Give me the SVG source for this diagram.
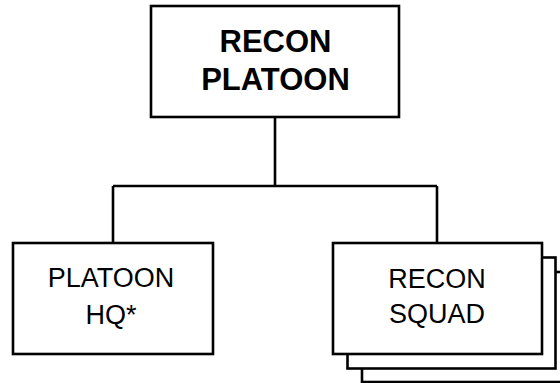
<svg xmlns="http://www.w3.org/2000/svg" width="560" height="383" viewBox="0 0 560 383">
<style>
.box{fill:#fff;stroke:#000;stroke-width:2.6}
.ln{fill:none;stroke:#000;stroke-width:2.6}
.t{font-family:"Liberation Sans",Arial,sans-serif;font-size:27px;text-anchor:middle;fill:#000}
.tb{font-family:"Liberation Sans",Arial,sans-serif;font-size:31px;font-weight:bold;text-anchor:middle;fill:#000}
</style>
<g id="connectors">
<path class="ln" d="M275 117 V186 M113 186 H437 M113 186 V243 M437 186 V243"/>
</g>
<g id="recon-platoon">
<rect class="box" x="151" y="6" width="248" height="111"/>
<text class="tb" x="275.5" y="52">RECON</text>
<text class="tb" x="275.5" y="90">PLATOON</text>
</g>
<g id="platoon-hq">
<rect class="box" x="13" y="243" width="200" height="111"/>
<text class="t" x="111" y="287">PLATOON</text>
<text class="t" x="111" y="324">HQ*</text>
</g>
<g id="recon-squad">
<rect class="box" x="362" y="272" width="208" height="110"/>
<rect class="box" x="347.5" y="257.5" width="208" height="111"/>
<rect class="box" x="333" y="243" width="209" height="111"/>
<text class="t" x="437" y="288">RECON</text>
<text class="t" x="437" y="323">SQUAD</text>
</g>
</svg>
